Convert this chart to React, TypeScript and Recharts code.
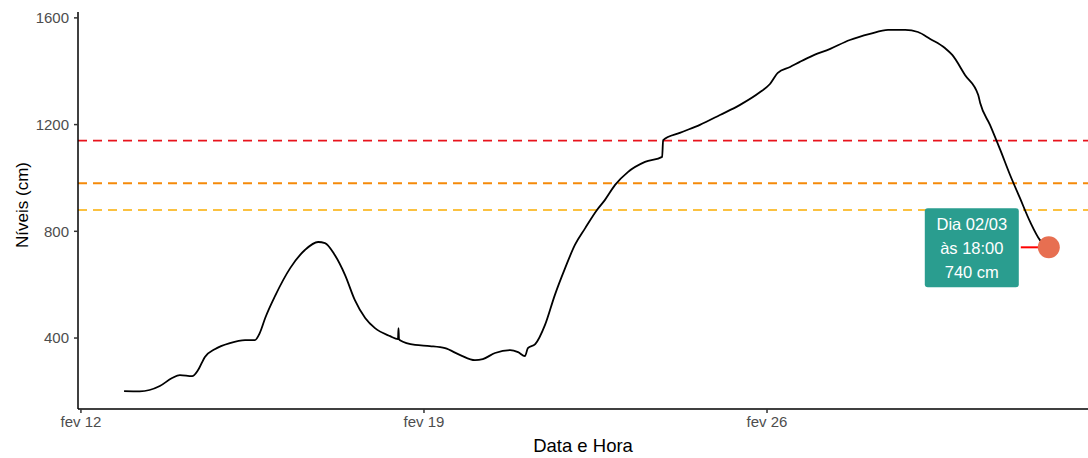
import React from 'react';
import {
    ComposedChart,
    Line,
    XAxis,
    YAxis,
    ReferenceLine,
    ReferenceDot,
} from 'recharts';

// dias desde fev 12 00:00
const dias = [
    0.88, 1.2, 1.61, 1.86, 2.02, 2.27, 2.39, 2.53, 2.74, 3.04, 3.35, 3.55, 3.65, 3.76, 3.96,
    4.27, 4.57, 4.84, 4.98, 5.18, 5.39, 5.59, 5.8, 6.0, 6.31, 6.47, 6.48, 6.49, 6.51, 6.82,
    7.12, 7.43, 7.74, 8.04, 8.2, 8.45, 8.76, 8.92, 9.06, 9.12, 9.27, 9.47, 9.67, 9.88,
    10.08, 10.29, 10.53, 10.69, 10.9, 11.16, 11.51, 11.86, 11.88, 12.22, 12.63, 13.04,
    13.45, 13.86, 14.06, 14.22, 14.47, 14.67, 14.88, 15.29, 15.69, 16.1, 16.47, 16.82,
    17.08, 17.33, 17.63, 17.78, 18.04, 18.31, 18.35, 18.55, 18.76, 18.96, 19.16, 19.37,
    19.57, 19.75,
];
const niveis = [
    201, 200, 220, 250, 261, 257, 280, 329, 359, 381, 392, 392, 419, 475, 557,
    662, 730, 760, 756, 711, 636, 542, 475, 437, 407, 396, 437, 396, 392, 374,
    370, 362, 336, 317, 321, 344, 355, 347, 332, 362, 377, 449, 561, 662,
    749, 812, 880, 917, 974, 1022, 1060, 1079, 1142, 1169, 1199, 1236,
    1274, 1322, 1352, 1394, 1416, 1435, 1454, 1484, 1517, 1540, 1555, 1555,
    1547, 1521, 1487, 1461, 1386, 1311, 1281, 1199, 1105, 1011, 925, 835,
    767, 740,
];

const tickDias = [0, 7, 14];
const tickNomes = ['fev 12', 'fev 19', 'fev 26'];
const tickNiveis = [400, 800, 1200, 1600];

const cotas = [
    {valor: 1140, cor: '#E8141C'},
    {valor: 980, cor: '#F58A0A'},
    {valor: 880, cor: '#FBC140'},
];

const ultimoDia = 19.75;
const ultimoNivel = 740;
const rotulo = ['Dia 02/03', 'às 18:00', '740 cm'];

const dados = dias.map((d, i) => ({dia: d, nivel: niveis[i]}));

const fonte = '"Liberation Sans", Arial, sans-serif';

const Marcador = (props: any) => {
    const {cx, cy} = props;
    if (cx == null || cy == null) return null;
    return (
        <g>
            <line x1={cx - 28} y1={cy} x2={cx} y2={cy} stroke="#FF0000" strokeWidth={2}/>
            <rect x={cx - 124} y={cy - 39} width={94} height={79} rx={3} fill="#2A9D8F"/>
            {rotulo.map((t, i) => (
                <text key={t} x={cx - 77} y={cy - 17 + i * 24} textAnchor="middle"
                      fill="#fff" fontSize={16.5} fontFamily={fonte}>{t}</text>
            ))}
            <circle cx={cx} cy={cy} r={11} fill="#E76F51"/>
        </g>
    );
};

const TituloY = () => (
    <text transform="translate(22,205) rotate(-90)" textAnchor="middle" dominantBaseline="central"
          fill="#000" fontSize={17} fontFamily={fonte}>Níveis (cm)</text>
);

export default function App() {
    return (
        <div style={{position: 'absolute', left: 0, top: 0, background: '#fff'}}>
            <ComposedChart width={1088} height={458} data={dados}
                           margin={{top: 12, right: 0, left: 0, bottom: 0}}>
                <XAxis type="number" dataKey="dia" domain={[-0.06, 20.55]} ticks={tickDias}
                       tickFormatter={(v: number) => tickNomes[tickDias.indexOf(v)]}
                       height={49} tickSize={4} tickMargin={3} allowDataOverflow
                       stroke="#000" strokeWidth={1.5}
                       tick={{fill: '#4D4D4D', fontSize: 15, fontFamily: fonte}}
                       tickLine={{stroke: '#333'}}
                       label={{value: 'Data e Hora', position: 'insideBottom', offset: 6,
                           fill: '#000', fontSize: 18.5, fontFamily: fonte}}/>
                <YAxis type="number" domain={[134, 1622]} ticks={tickNiveis} allowDataOverflow
                       width={78} tickSize={4} tickMargin={5}
                       stroke="#000" strokeWidth={1.5}
                       tick={{fill: '#4D4D4D', fontSize: 15, fontFamily: fonte}}
                       tickLine={{stroke: '#333'}}
                       label={{content: TituloY}}/>
                {cotas.map(c => (
                    <ReferenceLine key={c.valor} y={c.valor} stroke={c.cor} strokeWidth={1.9}
                                   strokeDasharray="9 6"/>
                ))}
                <Line type="monotone" dataKey="nivel" stroke="#000" strokeWidth={1.8}
                      dot={false} isAnimationActive={false}/>
                <ReferenceDot x={ultimoDia} y={ultimoNivel} shape={Marcador}/>
            </ComposedChart>
        </div>
    );
}
